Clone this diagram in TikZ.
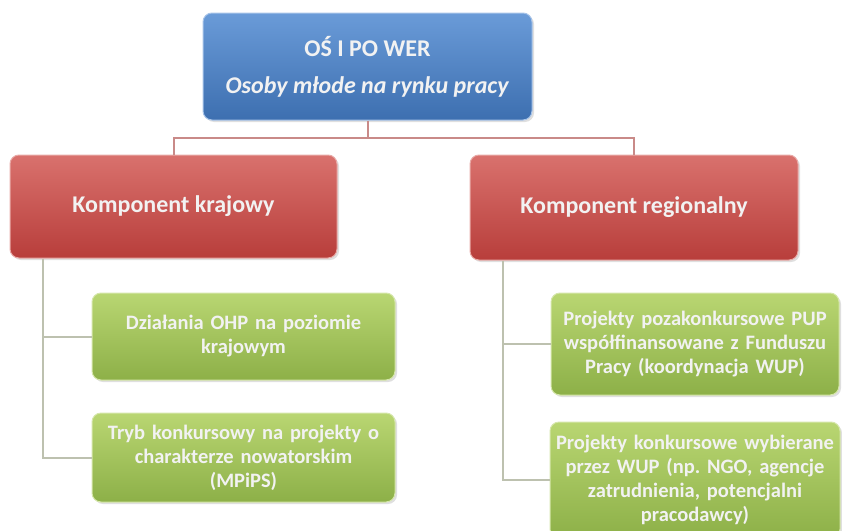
\documentclass[tikz,border=0pt]{standalone}
\usepackage{fontspec}
\setmainfont{Carlito}
\frenchspacing
\usetikzlibrary{shadows}
\definecolor{bluetop}{HTML}{6A9BD8}
\definecolor{bluebot}{HTML}{3D6FB0}
\definecolor{redtop}{HTML}{D9716D}
\definecolor{redbot}{HTML}{B83E3B}
\definecolor{greentop}{HTML}{B9D672}
\definecolor{greenbot}{HTML}{8DB048}
\definecolor{toplink}{HTML}{C98A88}
\definecolor{sidelink}{HTML}{BDC1AF}
\tikzset{
  box/.style = {rounded corners = 9pt, align = center, text = white!95!black,
    inner sep = 3pt,
    drop shadow = {opacity = 0.25, shadow xshift = 2pt, shadow yshift = -2pt}},
  topbox/.style = {box, top color = bluetop, bottom color = bluebot,
    draw = bluetop!60!white, line width = 1pt, font = \fontsize{24}{37}\selectfont\bfseries},
  compbox/.style = {box, top color = redtop, bottom color = redbot,
    draw = redtop!60!white, line width = 1pt, font = \fontsize{24}{28}\selectfont\bfseries},
  itembox/.style = {box, top color = greentop, bottom color = greenbot,
    draw = greentop!60!white, line width = 1pt, font = \fontsize{20.5}{24}\selectfont\bfseries},
  link/.style = {line width = 2pt}
}
\begin{document}
\begin{tikzpicture}[x = 1pt, y = -1pt]
\useasboundingbox (0,0) rectangle (842,530);
\node[topbox, minimum width = 329pt, minimum height = 107pt] (top) at (367.5,66.5)
  {OŚ I PO WER\\ \textit{Osoby młode na rynku pracy}};
\node[compbox, minimum width = 327pt, minimum height = 103pt] (kraj) at (173.5,206.5)
  {Komponent krajowy};
\node[compbox, minimum width = 328pt, minimum height = 105pt] (reg) at (634,207.5)
  {Komponent regionalny};
%% left branch
\node[itembox, minimum width = 303pt, minimum height = 87pt, text width = 295pt] (ohp) at (243.5,336.5)
  {Działania OHP na poziomie\\ krajowym};
\node[itembox, minimum width = 303pt, minimum height = 89pt, text width = 297pt] (tryb) at (243.5,457.5)
  {Tryb konkursowy na projekty o\\ charakterze nowatorskim\\ (MPiPS)};
%% right branch
\node[itembox, minimum width = 286pt, minimum height = 102pt, text width = 282pt] (pup) at (695,344)
  {Projekty pozakonkursowe PUP\\ współfinansowane z Funduszu\\ Pracy (koordynacja WUP)};
\node[itembox, minimum width = 286pt, minimum height = 116pt, text width = 284pt] (wup) at (695,480)
  {Projekty konkursowe wybierane\\ przez WUP (np. NGO, agencje\\ zatrudnienia, potencjalni\\ pracodawcy)};
\coordinate (fork) at ([yshift = -17pt]top.south);
\coordinate (kl) at ([xshift = 33pt]kraj.south west);
\coordinate (rl) at ([xshift = 33pt]reg.south west);
\begin{scope}[on background layer/.try]
\draw[link, toplink] (top.south) -- (fork) -| (kraj.north);
\draw[link, toplink] (fork) -| (reg.north);
\draw[link, sidelink] (kl) |- (ohp.west);
\draw[link, sidelink] (kl) |- (tryb.west);
\draw[link, sidelink] (rl) |- (pup.west);
\draw[link, sidelink] (rl) |- (wup.west);
\end{scope}
\end{tikzpicture}
\end{document}
